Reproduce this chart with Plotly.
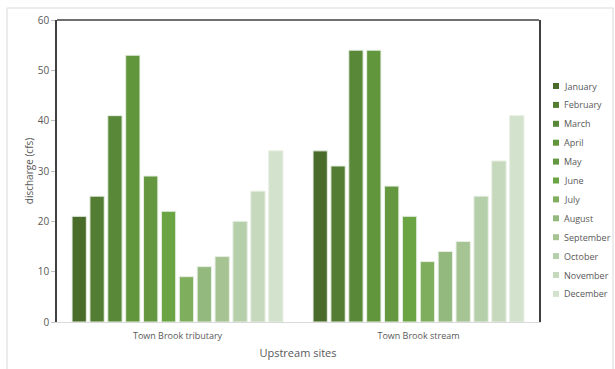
import plotly.graph_objects as go

sites = ["Town Brook tributary", "Town Brook stream"]
months = ["January", "February", "March", "April", "May", "June", "July",
          "August", "September", "October", "November", "December"]
tributary = [21, 25, 41, 53, 29, 22, 9, 11, 13, 20, 26, 34]
stream = [34, 31, 54, 54, 27, 21, 12, 14, 16, 25, 32, 41]
colors = ["#4a6c2a", "#537d33", "#598938", "#62963d", "#64973f", "#6aa443",
          "#7fae5c", "#94b97f", "#a6c393", "#b5cfab", "#c6d9bd", "#d3e2cc"]

# plot-area geometry in pixels (for converting legend placement to paper coords)
L, R, T, B = 57, 539, 20, 322
W, H = R - L, B - T

def px(x):
    return (x - L) / W

def py(y):
    return (B - y) / H

fig = go.Figure()
for i, m in enumerate(months):
    fig.add_trace(go.Bar(
        x=sites, y=[tributary[i], stream[i]], name=m,
        marker=dict(color=colors[i], line=dict(color="#e8efe4", width=1)),
    ))

shapes = [
    dict(type="line", xref="paper", yref="paper", x0=0, x1=1, y0=1, y1=1,
         line=dict(color="#404040", width=1.5)),
    dict(type="rect", xref="paper", yref="paper",
         x0=px(7), x1=px(613), y0=py(372), y1=py(8),
         line=dict(color="#d9d9d9", width=1), layer="below"),
]
annotations = []
for i, m in enumerate(months):
    yc = 86 + 18.9 * i
    shapes.append(dict(type="rect", xref="paper", yref="paper",
                       x0=px(553), x1=px(559), y0=py(yc + 3), y1=py(yc - 3),
                       fillcolor=colors[i], line=dict(width=0)))
    annotations.append(dict(text=m, xref="paper", yref="paper", x=px(562), y=py(yc),
                            xanchor="left", yanchor="middle", showarrow=False,
                            font=dict(size=9, color="#595959")))

fig.update_layout(
    width=615, height=369, showlegend=False,
    margin=dict(l=L, r=615 - R, t=T, b=369 - B),
    paper_bgcolor="white", plot_bgcolor="white",
    barmode="group", bargap=0.11, bargroupgap=0.2,
    font=dict(family="Open Sans, Liberation Sans, sans-serif", color="#595959"),
    xaxis=dict(showline=True, linecolor="#d9d9d9", linewidth=1,
               ticks="outside", ticklen=5, tickcolor="rgba(0,0,0,0)",
               tickfont=dict(size=9, color="#595959"),
               title=dict(text="Upstream sites", font=dict(size=11, color="#595959"), standoff=8)),
    yaxis=dict(range=[0, 60], dtick=10, showgrid=False, zeroline=False,
               showline=True, linecolor="#404040", linewidth=1.5, mirror=True,
               ticks="outside", ticklen=4, tickcolor="#bfbfbf",
               tickfont=dict(size=10, color="#595959"),
               title=dict(text="discharge (cfs)", font=dict(size=10, color="#595959"), standoff=2)),
    shapes=shapes,
    annotations=annotations,
)

fig.write_html("out.html")
